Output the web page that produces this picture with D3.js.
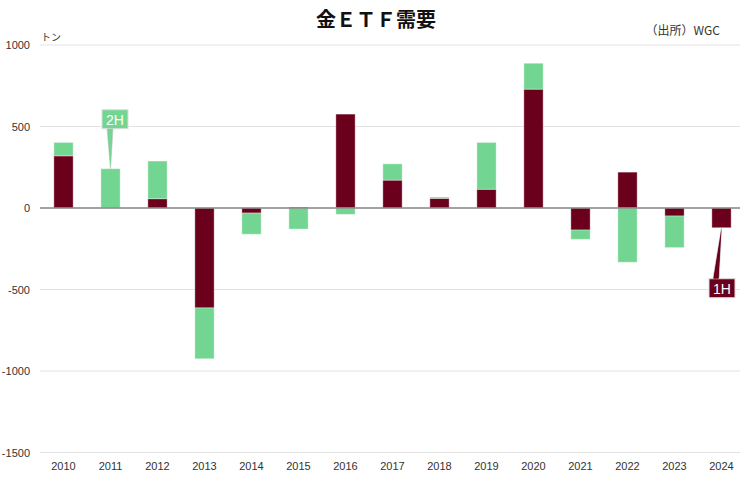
<!DOCTYPE html>
<html><head><meta charset="utf-8">
<script src="https://cdn.jsdelivr.net/npm/d3@7"></script>
<style>
body{margin:0;background:#fff;}
text{font-family:"Liberation Sans","Noto Sans CJK JP",sans-serif;}
</style></head>
<body><svg id="c" width="752" height="492"></svg>
<script>
const years = ["2010","2011","2012","2013","2014","2015","2016","2017","2018","2019","2020","2021","2022","2023","2024"];
const h1 = [320, 0, 57, -613, -31, 5, 576, 171, 59, 115, 729, -135, 220, -49, -121];
const h2 = [82, 241, 231, -312, -130, -129, -39, 100, 8, 287, 159, -57, -333, -194, 0];
const yTicks = [1000, 500, 0, -500, -1000, -1500];
const seriesNames = ["1H", "2H"];
const colors = ["#6a001c", "#72d692"];

const svg = d3.select("#c");
const x = d3.scaleBand().domain(years).range([40, 745]).paddingInner(0.59).paddingOuter(0.295);
const y = d3.scaleLinear().domain([-1500, 1000]).range([452.5, 45]);

// gridlines
svg.append("g").selectAll("line").data(yTicks).join("line")
  .attr("x1", 40).attr("x2", 740)
  .attr("y1", d => y(d)).attr("y2", d => y(d))
  .attr("stroke", "#e2e2e2").attr("stroke-width", 1);

// y labels
svg.append("g").selectAll("text").data(yTicks).join("text")
  .attr("x", 30).attr("y", d => y(d) + 4)
  .attr("text-anchor", "end").attr("font-size", 11).attr("fill", "#333")
  .text(d => d);

// data table
const table = years.map((yr, i) => ({year: yr, "1H": h1[i], "2H": h2[i]}));
const stack = d3.stack().keys(seriesNames).offset(d3.stackOffsetDiverging);
const layers = stack(table);

svg.append("g").selectAll("g").data(layers).join("g")
  .attr("fill", (d, i) => colors[i])
  .selectAll("rect").data(d => d.filter(p => p[1] !== p[0])).join("rect")
  .attr("x", d => x(d.data.year))
  .attr("width", x.bandwidth())
  .attr("y", d => y(Math.max(d[0], d[1])))
  .attr("height", d => Math.abs(y(d[0]) - y(d[1])))
  .attr("stroke", "rgba(255,255,255,0.35)").attr("stroke-width", 1);

// zero line
svg.append("line").attr("x1", 40).attr("x2", 740)
  .attr("y1", y(0)).attr("y2", y(0)).attr("stroke", "#888").attr("stroke-width", 1.5);

// x labels
svg.append("g").selectAll("text").data(years).join("text")
  .attr("x", d => x(d) + x.bandwidth() / 2).attr("y", 470)
  .attr("text-anchor", "middle").attr("font-size", 11).attr("fill", "#333")
  .text(d => d);

// title
svg.append("text").attr("x", 376).attr("y", 27).attr("text-anchor", "middle")
  .attr("font-size", 20).attr("font-weight", "bold").attr("fill", "#111")
  .style("font-family", "'Noto Sans CJK JP',sans-serif")
  .text("金ＥＴＦ需要");
svg.append("text").attr("x", 720).attr("y", 35).attr("text-anchor", "end")
  .attr("font-size", 12).attr("fill", "#333")
  .style("font-family", "'Noto Sans CJK JP',sans-serif")
  .text("（出所）WGC");
svg.append("text").attr("x", 41).attr("y", 41)
  .attr("font-size", 10).attr("fill", "#333")
  .style("font-family", "'Noto Sans CJK JP',sans-serif")
  .text("トン");

// callouts
function callout(i, key, boxX, boxY, up) {
  const yr = years[i];
  const layer = layers[seriesNames.indexOf(key)][i];
  const cx = x(yr) + x.bandwidth() / 2;
  const tipY = up ? y(Math.max(layer[0], layer[1])) : y(Math.min(layer[0], layer[1]));
  const col = colors[seriesNames.indexOf(key)];
  const w = 26, h = 19;
  const g = svg.append("g");
  const bx = cx + boxX, by = tipY + boxY;
  const baseY = up ? by + h : by;
  const baseX = bx + (up ? 8 : 7);
  g.append("path")
    .attr("d", `M${baseX - 3},${baseY} L${cx},${tipY} L${baseX + 3},${baseY} Z`)
    .attr("fill", col).attr("stroke", "#ccc").attr("stroke-width", 0.8);
  g.append("rect").attr("x", bx).attr("y", by).attr("width", w).attr("height", h)
    .attr("fill", col).attr("stroke", "#ddd").attr("stroke-width", 1);
  g.append("path")
    .attr("d", `M${baseX - 2.5},${baseY} L${cx},${tipY + (up ? -0.5 : 0.5)} L${baseX + 2.5},${baseY}`)
    .attr("fill", col).attr("stroke", "none");
  g.append("text").attr("x", bx + w / 2).attr("y", by + 15)
    .attr("text-anchor", "middle").attr("font-size", 14).attr("fill", "#fff")
    .text(key);
}
callout(1, "2H", -8.5, -59, true);
callout(14, "1H", -12.5, 51, false);
</script></body></html>
